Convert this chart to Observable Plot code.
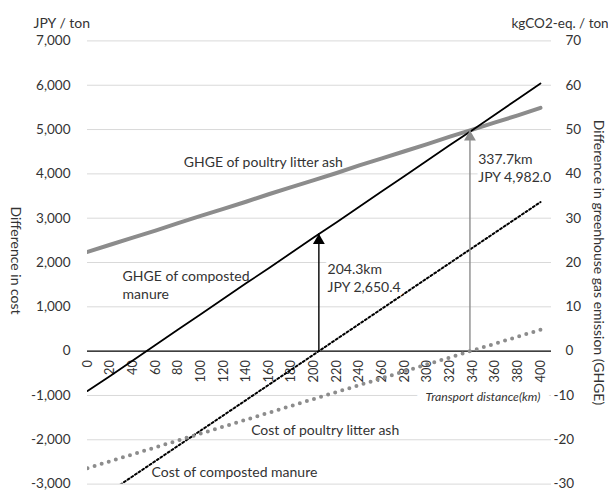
<!DOCTYPE html>
<html>
<head>
<meta charset="utf-8">
<script src="https://cdn.jsdelivr.net/npm/d3@7"></script>
<script src="https://cdn.jsdelivr.net/npm/@observablehq/plot@0.6"></script>
<style>
  html, body { margin: 0; padding: 0; background: #fff; }
  #chart { width: 608px; height: 493px; }
</style>
</head>
<body>
<div id="chart"></div>
<script>
// ---- data ----
const km = [0, 20, 40, 60, 80, 100, 120, 140, 160, 180, 200, 220, 240, 260, 280, 300, 320, 340, 360, 380, 400];
// GHGE differences (kgCO2-eq. / ton, right axis)
const ghgeCompost = [-9.0, -5.6, -2.1, 1.4, 4.9, 8.3, 11.8, 15.3, 18.7, 22.2, 25.7, 29.1, 32.6, 36.1, 39.5, 43.0, 46.5, 49.9, 53.4, 56.9, 60.4];
const ghgeAsh = [22.4, 24.0, 25.6, 27.2, 28.9, 30.5, 32.1, 33.7, 35.4, 37.0, 38.6, 40.2, 41.9, 43.5, 45.1, 46.7, 48.4, 50.0, 51.6, 53.2, 54.9];
// Cost differences (JPY / ton, left axis)
const costCompost = [-3510, -3166, -2822, -2479, -2135, -1791, -1448, -1104, -760, -417, -73, 271, 614, 958, 1302, 1646, 1989, 2333, 2677, 3020, 3364];
const costAsh = [-2640, -2484, -2328, -2172, -2015, -1859, -1703, -1547, -1391, -1235, -1078, -922, -766, -610, -454, -298, -142, 15, 171, 327, 483];
// break-even annotations
const breakKm = [204.3, 337.7];
const breakCost = [2650.4, 4982.0];
const breakText = ["204.3km\nJPY 2,650.4", "337.7km\nJPY 4,982.0"];
// axes
const leftTicks = [-3000, -2000, -1000, 0, 1000, 2000, 3000, 4000, 5000, 6000, 7000];
const rightTicks = [-30, -20, -10, 0, 10, 20, 30, 40, 50, 60, 70];
const xTicks = km;
const RATIO = 100; // 1 kgCO2-eq. on right axis = 100 JPY on left axis

// ---- build tables ----
const series = [];
km.forEach((k, i) => {
  series.push({km: k, v: ghgeCompost[i] * RATIO, s: "ghgeCompost"});
  series.push({km: k, v: ghgeAsh[i] * RATIO, s: "ghgeAsh"});
  series.push({km: k, v: costCompost[i], s: "costCompost"});
  series.push({km: k, v: costAsh[i], s: "costAsh"});
});
const sel = s => series.filter(d => d.s === s);
const breaks = breakKm.map((k, i) => ({km: k, cost: breakCost[i], text: breakText[i], color: i === 0 ? "#000" : "#8c8c8c"}));

// label anchor positions (placement only)
const breakLabelPos = [{km: 212, v: 1664}, {km: 345, v: 4142}];
const labels = [
  {km: 85, v: 4282, text: "GHGE of poultry litter ash"},
  {km: 31, v: 1506, text: "GHGE of composted\nmanure"},
  {km: 144.5, v: -1752, text: "Cost of poultry litter ash"},
  {km: 56.6, v: -2709, text: "Cost of composted manure"}
];

const fmt = d => d.toLocaleString("en-US");
const GREY = "#8c8c8c";
const TXT = "#333";

const chart = Plot.plot({
  width: 608,
  height: 493,
  marginLeft: 87,
  marginRight: 57,
  marginTop: 40.4,
  marginBottom: 9.4,
  x: {domain: [0, 400], insetRight: 11, axis: null},
  y: {domain: [-3000, 7000], axis: null},
  style: {fontFamily: "Lato, sans-serif", fontSize: "14px", color: TXT, background: "#fff", overflow: "hidden"},
  marks: [
    // gridlines
    Plot.ruleY(leftTicks.filter(d => d !== 0), {stroke: "#d9d9d9", strokeWidth: 1}),
    Plot.ruleY([0], {stroke: "#000", strokeWidth: 1.3}),
    // left tick labels
    Plot.text(leftTicks, {y: d => d, frameAnchor: "left", textAnchor: "end", dx: -17, text: fmt, fill: TXT, fontSize: 13.5}),
    // right tick labels (digits aligned, minus sign hanging)
    Plot.text(rightTicks.filter(d => d >= 0), {y: d => d * RATIO, frameAnchor: "right", textAnchor: "start", dx: 14, text: d => String(d), fill: TXT, fontSize: 13.5}),
    Plot.text(rightTicks.filter(d => d < 0), {y: d => d * RATIO, frameAnchor: "right", textAnchor: "start", dx: 2, text: d => String(d), fill: TXT, fontSize: 13.5}),
    // x tick labels, rotated, under zero line
    Plot.text(xTicks, {x: d => d, y: 0, text: d => String(d), rotate: -90, textAnchor: "end", dy: 9, fill: TXT, fontSize: 12.8}),
    // x axis title
    Plot.text(["Transport distance(km)"], {x: 400, y: -1034, text: d => d, textAnchor: "end", fontStyle: "italic", fontSize: 12.2, fill: TXT, stroke: "#fff", strokeWidth: 18}),
    // series
    Plot.line(sel("ghgeAsh"), {x: "km", y: "v", stroke: GREY, strokeWidth: 4, clip: true}),
    Plot.line(sel("ghgeCompost"), {x: "km", y: "v", stroke: "#000", strokeWidth: 1.8, clip: true}),
    Plot.line(sel("costCompost"), {x: "km", y: "v", stroke: "#000", strokeWidth: 2, strokeDasharray: "2 2.4", clip: true}),
    Plot.line(sel("costAsh"), {x: "km", y: "v", stroke: GREY, strokeWidth: 4, strokeDasharray: "0 7.4", strokeLinecap: "round", clip: true}),
    // break-even arrows
    Plot.ruleX(breaks, {x: "km", y1: 0, y2: "cost", stroke: "color", strokeWidth: 1.4}),
    Plot.dot(breaks, {x: "km", y: "cost", symbol: "triangle", r: 4.4, fill: "color", stroke: "none", dy: 6.8}),
    Plot.text(breaks, {x: (d, i) => breakLabelPos[i].km, y: (d, i) => breakLabelPos[i].v, text: "text", textAnchor: "start", lineAnchor: "middle", lineHeight: 1.3, fill: TXT, stroke: "#fff", strokeWidth: 8}),
    // series labels
    Plot.text(labels, {x: "km", y: "v", text: "text", textAnchor: "start", lineHeight: 1.3, fill: TXT}),
    // axis titles
    Plot.text(["JPY / ton"], {frameAnchor: "top-left", text: d => d, textAnchor: "start", dx: -54, dy: -22.4, fill: TXT}),
    Plot.text(["kgCO2-eq. / ton"], {frameAnchor: "top-right", text: d => d, textAnchor: "start", dx: -40, dy: -22.4, fill: TXT, fontSize: 13.5}),
    Plot.text(["Difference in cost"], {frameAnchor: "left", text: d => d, rotate: 90, textAnchor: "middle", dx: -72, dy: -2, fill: TXT}),
    Plot.text(["Difference in greenhouse gas emission (GHGE)"], {frameAnchor: "right", text: d => d, rotate: 90, textAnchor: "middle", dx: 47, dy: 0, fill: TXT})
  ]
});
document.getElementById("chart").appendChild(chart);
</script>
</body>
</html>
